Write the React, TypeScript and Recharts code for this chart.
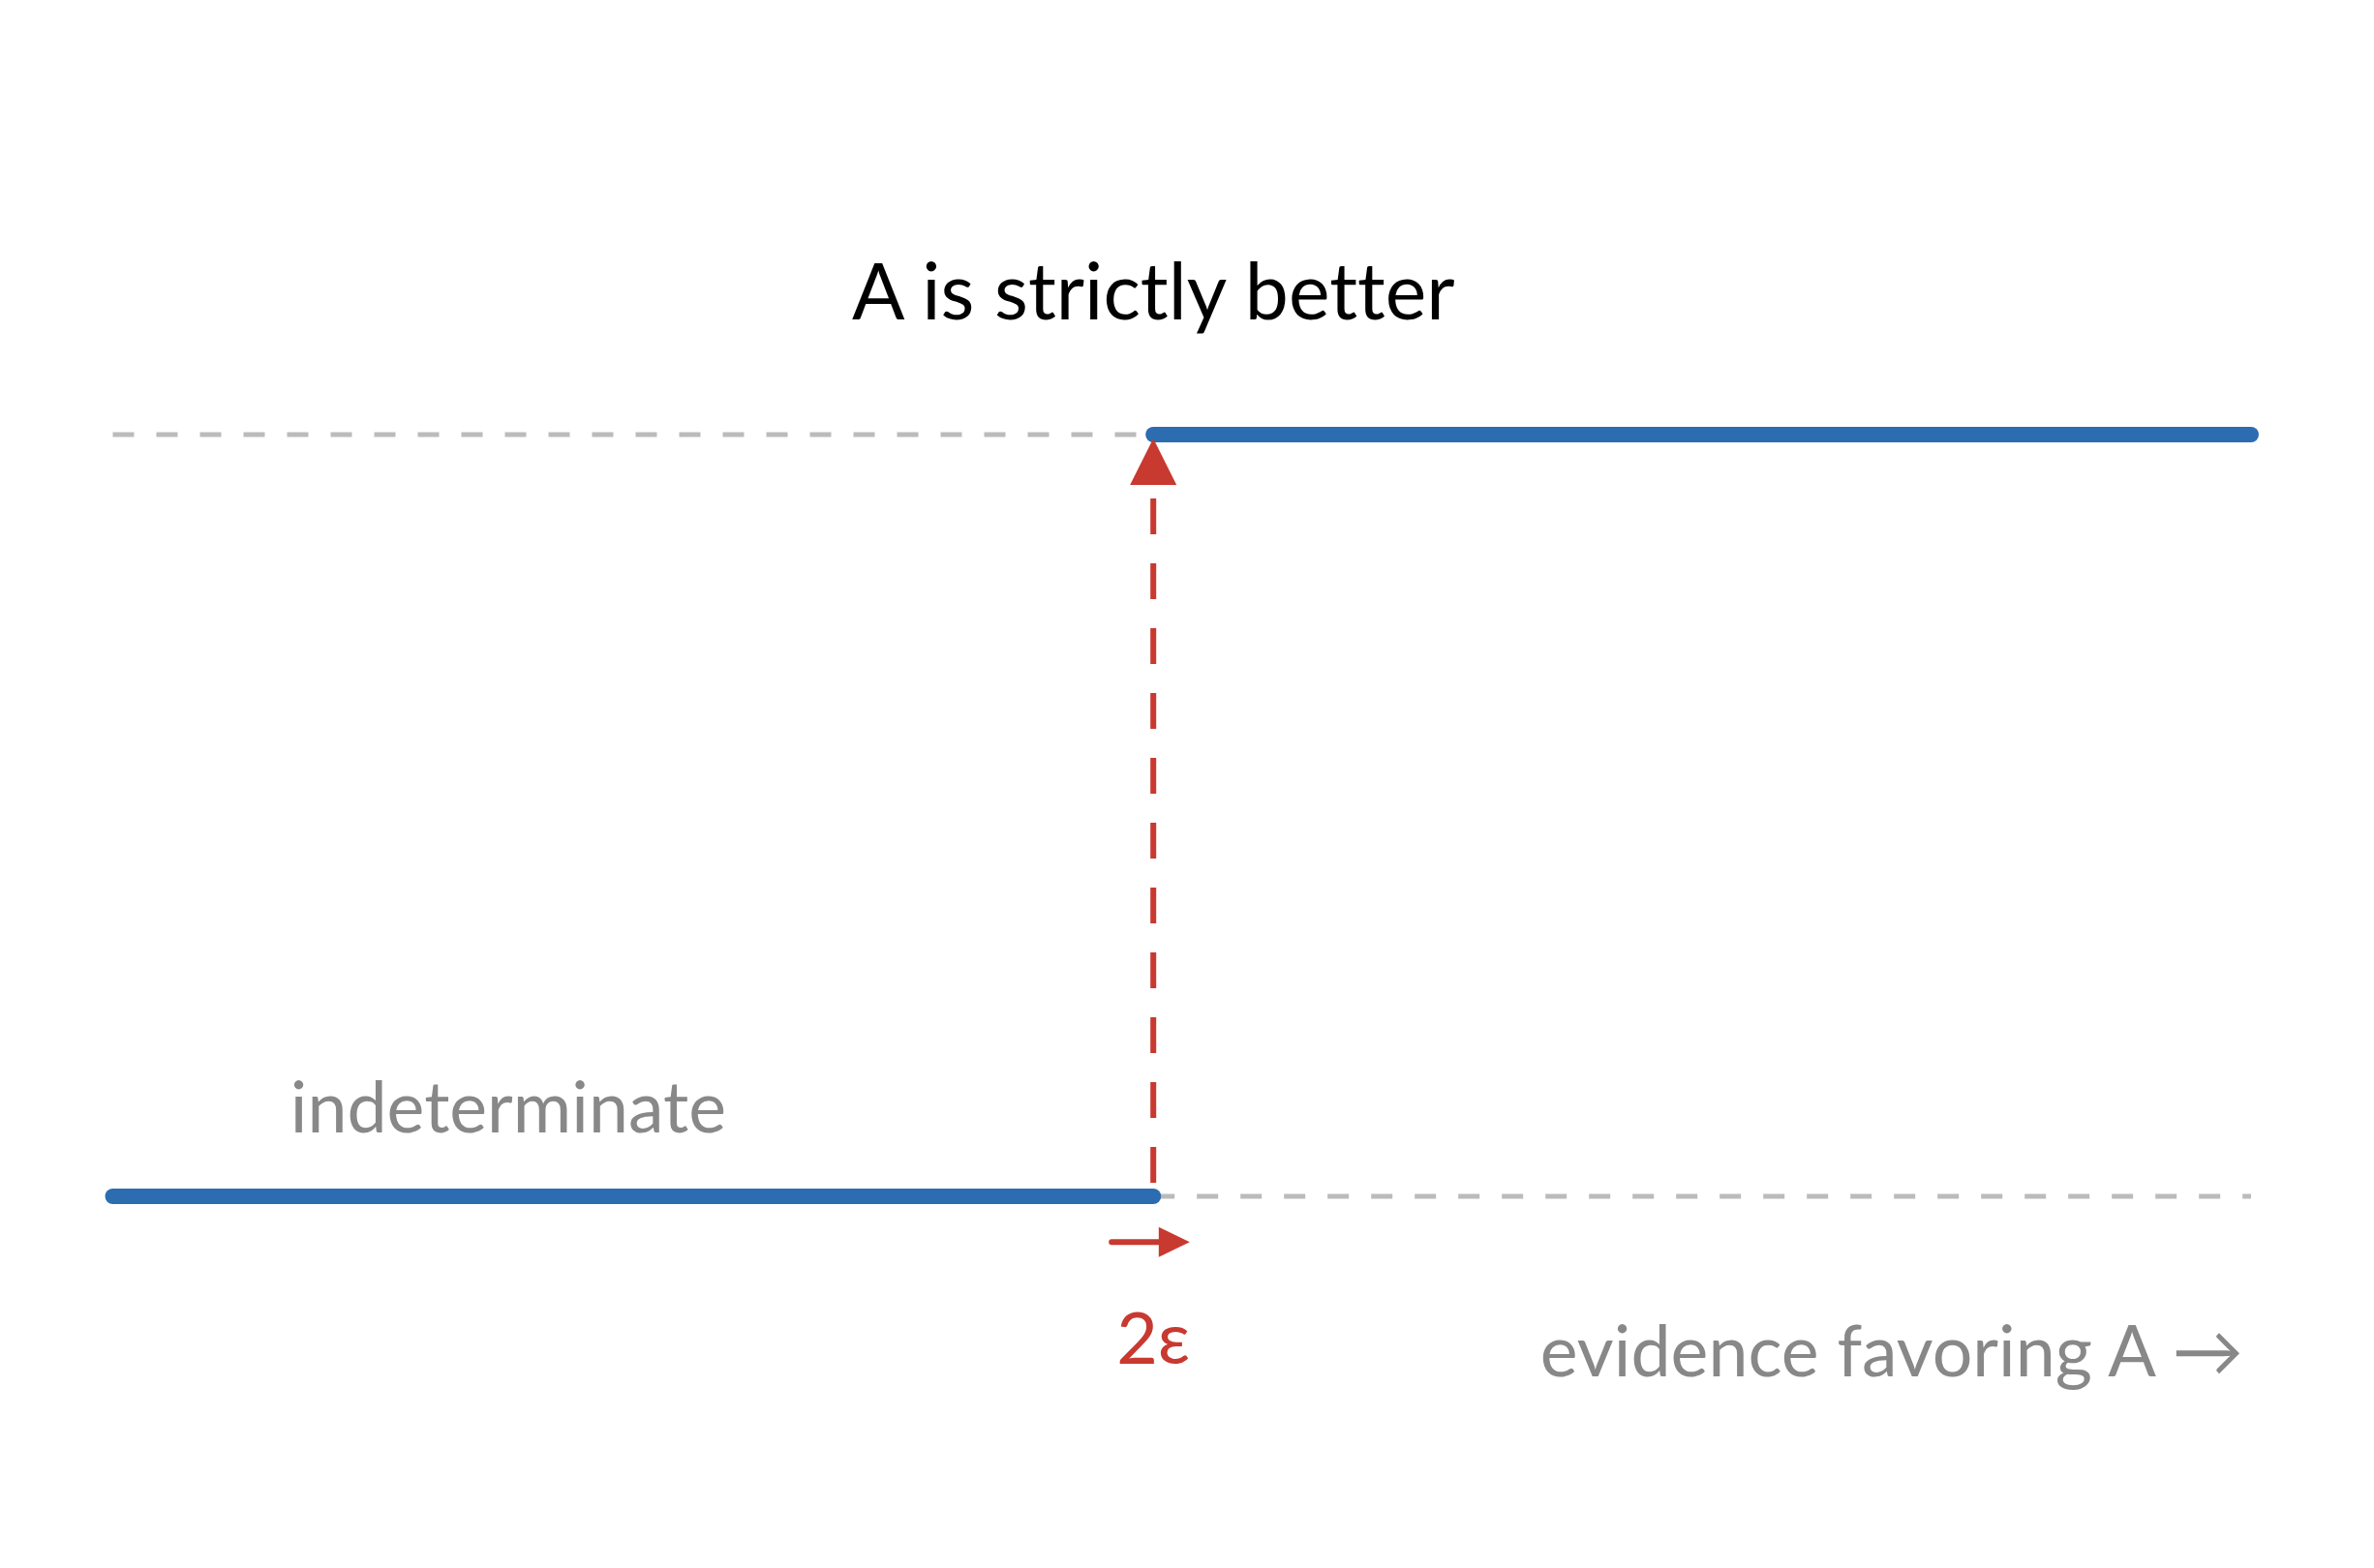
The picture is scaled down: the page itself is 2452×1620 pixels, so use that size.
import React from 'react';
import { ComposedChart, Line, Scatter, XAxis, YAxis, ReferenceDot, Label } from 'recharts';

// evidence axis (ε = 1, threshold at 2ε)
const xMin = 0;
const xMax = 4.11;

const lowerBlue = [
  { x: 0, y: 0 },
  { x: 2, y: 0 },
];
const upperBlue = [
  { x: 2, y: 1 },
  { x: 4.11, y: 1 },
];
const upperGuide = [
  { x: 0, y: 1 },
  { x: 2, y: 1 },
];
const lowerGuide = [
  { x: 2, y: 0 },
  { x: 4.11, y: 0 },
];
const jumpShaft = [
  { x: 2, y: 0.916 },
  { x: 2, y: 0 },
];
const jumpHead = [{ x: 2, y: 0.995 }];
const epsShaft = [
  { x: 1.92, y: -0.06 },
  { x: 2.015, y: -0.06 },
];
const epsHead = [{ x: 2.07, y: -0.06 }];

const labels = [
  { x: 2, y: 1.151, text: 'A is strictly better', color: '#000000', size: 80.5, anchor: 'middle' },
  { x: 0.76, y: 0.084, text: 'indeterminate', color: '#888888', size: 73.5, anchor: 'middle' },
  { x: 2, y: -0.22, text: '2ε', color: '#C8392F', size: 73.5, anchor: 'middle' },
  { x: 4.095, y: -0.236, text: 'evidence favoring A →', color: '#888888', size: 73.5, anchor: 'end' },
];

const BLUE = '#2C6CB0';
const RED = '#C8392F';
const GRAY = '#BBBBBB';
const FONT = 'Lato, "Noto Sans", sans-serif';

const UpHead = (props: any) => {
  const { cx, cy } = props;
  return <path d={`M${cx},${cy} L${cx - 24},${cy + 48} L${cx + 24},${cy + 48} Z`} fill={RED} />;
};

const RightHead = (props: any) => {
  const { cx, cy } = props;
  return <path d={`M${cx},${cy} L${cx - 32},${cy - 15.5} L${cx - 32},${cy + 15.5} Z`} fill={RED} />;
};

export default function App() {
  return (
    <div style={{ position: 'absolute', left: 0, top: 0 }}>
      <ComposedChart
        width={2452}
        height={1620}
        margin={{ top: 252.25, right: 127, bottom: 187.25, left: 116.5 }}
        style={{ background: '#ffffff' }}
      >
        <XAxis type="number" dataKey="x" domain={[xMin, xMax]} hide />
        <YAxis type="number" dataKey="y" domain={[-0.25, 1.25]} hide />

        <Line data={upperGuide} dataKey="y" stroke={GRAY} strokeWidth={5} strokeDasharray="22 23" dot={false} isAnimationActive={false} />
        <Line data={lowerGuide} dataKey="y" stroke={GRAY} strokeWidth={5} strokeDasharray="22 23" dot={false} isAnimationActive={false} />
        <Line data={jumpShaft} dataKey="y" stroke={RED} strokeWidth={6} strokeDasharray="37 30" dot={false} isAnimationActive={false} />
        <Line data={lowerBlue} dataKey="y" stroke={BLUE} strokeWidth={16} strokeLinecap="round" dot={false} isAnimationActive={false} />
        <Line data={upperBlue} dataKey="y" stroke={BLUE} strokeWidth={16} strokeLinecap="round" dot={false} isAnimationActive={false} />
        <Line data={epsShaft} dataKey="y" stroke={RED} strokeWidth={6} strokeLinecap="round" dot={false} isAnimationActive={false} />
        <Scatter data={jumpHead} dataKey="y" shape={UpHead} isAnimationActive={false} />
        <Scatter data={epsHead} dataKey="y" shape={RightHead} isAnimationActive={false} />

        {labels.map((l) => (
          <ReferenceDot key={l.text} x={l.x} y={l.y} r={1} fill="none" stroke="none" ifOverflow="visible">
            <Label
              content={(p: any) => {
                const vb = p.viewBox || {};
                const cx = (vb.x ?? 0) + (vb.width ?? 0) / 2;
                const cy = (vb.y ?? 0) + (vb.height ?? 0) / 2;
                return (
                  <text
                    x={cx}
                    y={cy}
                    textAnchor={l.anchor}
                    fill={l.color}
                    fontSize={l.size}
                    fontFamily={FONT}
                    style={{ fontVariantLigatures: 'none' }}
                  >
                    {l.text}
                  </text>
                );
              }}
            />
          </ReferenceDot>
        ))}
      </ComposedChart>
    </div>
  );
}
